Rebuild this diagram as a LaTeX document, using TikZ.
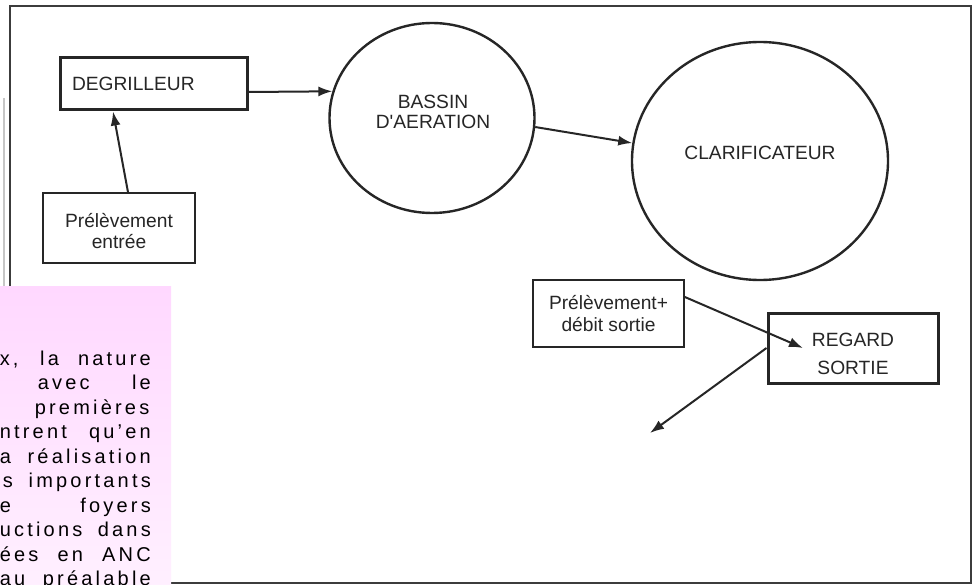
\documentclass[tikz,border=0pt]{standalone}
\usepackage{fontspec}
\setmainfont{Liberation Sans}
\newfontfamily\notefont[LetterSpace=16]{Liberation Sans}
\usetikzlibrary{arrows.meta,shapes.geometric}
\definecolor{ink}{HTML}{262626}
\definecolor{frameink}{HTML}{3C3C3C}
\definecolor{pinktop}{HTML}{FFD8FF}
\definecolor{pinkbot}{HTML}{FFF0FF}
\tikzset{
  lbl/.style={font=\fontsize{19.2}{21}\selectfont, text=ink, align=center, inner sep=0pt},
  bigbox/.style={draw=ink, rectangle, line width=3pt, inner sep=0pt, font=\fontsize{19.2}{21}\selectfont, text=ink},
  thinbox/.style={draw=ink, rectangle, line width=1.7pt, inner sep=0pt, font=\fontsize{19.2}{21}\selectfont, text=ink},
  circ/.style={draw=ink, ellipse, line width=2.4pt, inner sep=0pt},
  arr/.style={draw=ink, line width=2pt, -{Latex[length=14pt,width=10pt]}},
  notetxt/.style={font=\notefont\fontsize{20}{24}\selectfont, text=black, inner sep=0pt, anchor=base east}
}
\begin{document}
\begin{tikzpicture}[x=1pt,y=-1pt]
\useasboundingbox (0,0) rectangle (976,585);
\fill[white] (0,0) rectangle (976,585);
% scan artefact and frame
\draw[gray!45, line width=1.5pt] (4,98) -- (4,286);
\draw[frameink, line width=1.4pt] (10,6) rectangle (971,583);

% boxes
\node[bigbox, minimum width=187pt, minimum height=52pt, text width=163pt, align=left] (degr) at (153.5,84) {DEGRILLEUR};
\node[thinbox, minimum width=152pt, minimum height=70pt] (entree) at (119,228) {};
\node[lbl] (entreetxt) at (119,231) {Prélèvement\\entrée};
\node[circ, minimum width=205pt, minimum height=190pt] (bassin) at (432,118) {};
\node[lbl, font=\fontsize{19.2}{20}\selectfont] (bassintxt) at (433,112) {BASSIN\\D\textquotesingle AERATION};
\node[circ, minimum width=256pt, minimum height=238pt] (clarif) at (760,161) {};
\node[lbl] (clariftxt) at (760,153) {CLARIFICATEUR};
\node[thinbox, minimum width=151pt, minimum height=67pt, align=center, font=\fontsize{19.2}{22}\selectfont] (sortiep) at (608.5,313.5) {Prélèvement+\\débit sortie};
\node[bigbox, minimum width=170pt, minimum height=70pt] (regard) at (853,348) {};
\node[lbl, font=\fontsize{19.2}{28}\selectfont] (regardtxt) at (853,354) {REGARD\\SORTIE};
\coordinate (out) at (650,433);

% connectors
\draw[arr] ([yshift=-8pt]degr.east) -- (bassin.165);
\draw[arr] ([xshift=9pt]entree.north) -- ([xshift=-40.5pt]degr.south);
\draw[arr] (bassin.-5) -- (clarif.172);
\draw[arr] ([yshift=16.5pt]sortiep.east) -- ([xshift=-50pt]regard.center);
\draw[arr] (regard.west) -- (out);

% overlapping note
\shade[top color=pinktop, bottom color=pinkbot] (0,286) rectangle (171,590);
\node[notetxt] (n1) at (151,365) {\makebox[151pt][s]{x, la nature}};
\node[notetxt] (n2) at (151,389.5) {\makebox[113pt][s]{avec le}};
\node[notetxt] (n3) at (151,414) {\makebox[116pt][s]{premières}};
\node[notetxt] (n4) at (151,438.5) {\makebox[151pt][s]{ntrent qu’en}};
\node[notetxt] (n5) at (151,463) {\makebox[151pt][s]{a réalisation}};
\node[notetxt] (n6) at (151,487.5) {\makebox[148pt][s]{s importants}};
\node[notetxt] (n7) at (151,512) {\makebox[151pt][s]{e foyers}};
\node[notetxt] (n8) at (151,536.5) {\makebox[151pt][s]{uctions dans}};
\node[notetxt] (n9) at (151,561) {\makebox[151pt][s]{ées en ANC}};
\node[notetxt] (n10) at (151,585.5) {\makebox[151pt][s]{au préalable}};
\end{tikzpicture}
\end{document}
